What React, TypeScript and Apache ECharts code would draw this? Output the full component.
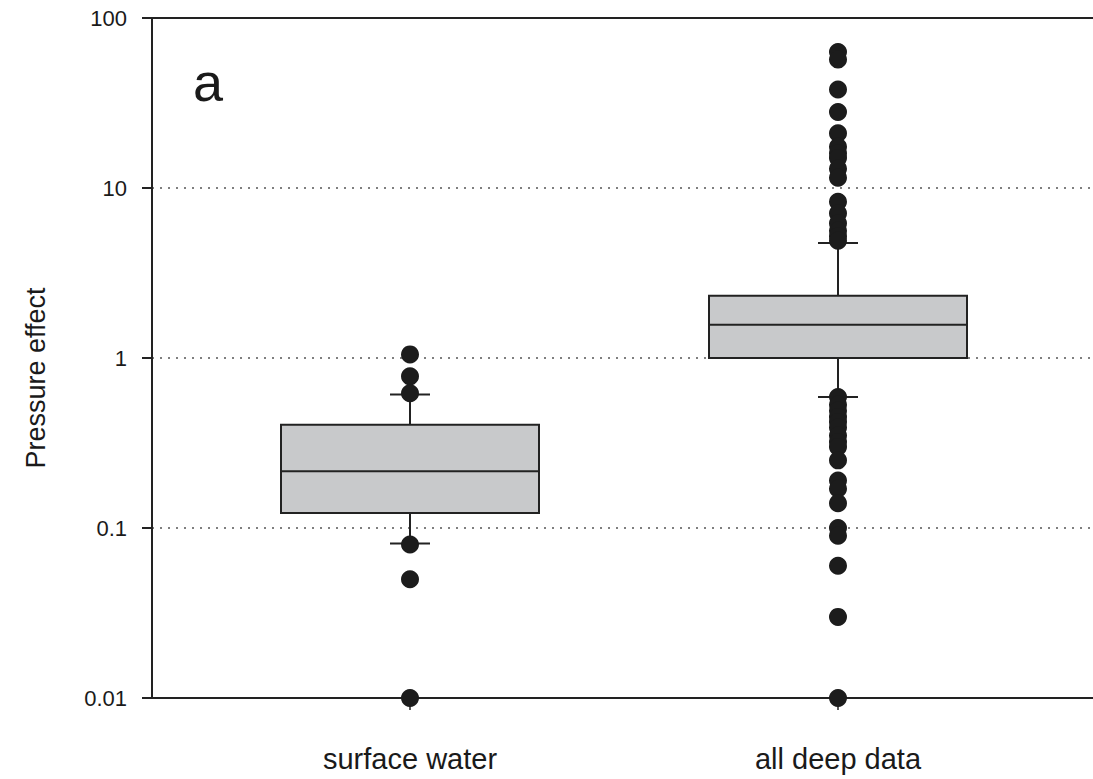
import React, { useEffect, useRef } from "react";
import * as echarts from "echarts";

const categories = ["surface water", "all deep data"];
// [low whisker, Q1, median, Q3, high whisker]
const boxStats = [
  [0.081, 0.1225, 0.216, 0.405, 0.61],
  [0.59, 1.0, 1.57, 2.32, 4.75],
];
const surfaceOutliers = [1.05, 0.78, 0.62, 0.08, 0.05, 0.01];
const deepOutliers = [
  63, 57, 38, 28, 21, 17.5, 16, 15, 13, 11.5, 8.3, 7.1, 6.2, 5.6, 5.2, 4.9,
  0.59, 0.53, 0.49, 0.45, 0.42, 0.39, 0.35, 0.32, 0.3, 0.25, 0.19, 0.17, 0.14,
  0.1, 0.09, 0.06, 0.03, 0.01,
];
const yTicks = [0.01, 0.1, 1, 10, 100];
const panelLabel = "a";
const yName = "Pressure effect";

const FONT = "Liberation Sans, Arial, sans-serif";
const INK = "#222222";

export default function App() {
  const ref = useRef<HTMLDivElement>(null);
  useEffect(() => {
    document.body.style.margin = "0";
    if (!ref.current) return;
    const chart = echarts.init(ref.current, undefined, { renderer: "svg" });
    const boxW = 258;
    const capW = 40;
    const option: any = {
      animation: false,
      backgroundColor: "#ffffff",
      grid: [
        { left: 152, right: 0, top: 18, bottom: 81 },
        { left: 196, width: 856, top: 18, bottom: 81 },
      ],
      xAxis: [
        {
          gridIndex: 0,
          type: "value",
          min: 0,
          max: 1,
          position: "bottom",
          axisLine: { show: true, lineStyle: { color: INK, width: 2 } },
          axisTick: { show: false },
          axisLabel: { show: false },
          splitLine: { show: false },
        },
        {
          gridIndex: 0,
          type: "value",
          min: 0,
          max: 1,
          position: "top",
          axisLine: { show: true, lineStyle: { color: INK, width: 2 } },
          axisTick: { show: false },
          axisLabel: { show: false },
          splitLine: { show: false },
        },
        {
          gridIndex: 1,
          type: "category",
          data: categories,
          boundaryGap: true,
          axisLine: { show: false },
          axisTick: {
            show: true,
            alignWithLabel: true,
            length: 12,
            lineStyle: { color: INK, width: 1.5 },
          },
          axisLabel: {
            margin: 46,
            fontSize: 29,
            fontFamily: FONT,
            color: "#1a1a1a",
          },
          splitLine: { show: false },
        },
      ],
      yAxis: [
        {
          gridIndex: 0,
          type: "log",
          logBase: 10,
          min: yTicks[0],
          max: yTicks[yTicks.length - 1],
          axisLine: { show: true, lineStyle: { color: INK, width: 2 } },
          axisTick: {
            show: true,
            inside: false,
            length: 10,
            lineStyle: { color: INK, width: 2 },
          },
          minorTick: { show: false },
          axisLabel: {
            margin: 25,
            fontSize: 22,
            fontFamily: FONT,
            color: "#1a1a1a",
            formatter: (v: number) => String(Number(v.toPrecision(3))),
          },
          splitLine: {
            show: true,
            lineStyle: { color: "#555555", width: 1.5, type: [2, 6] },
          },
        },
        {
          gridIndex: 1,
          type: "log",
          logBase: 10,
          min: yTicks[0],
          max: yTicks[yTicks.length - 1],
          show: false,
        },
      ],
      series: [
        {
          type: "custom",
          xAxisIndex: 2,
          yAxisIndex: 1,
          z: 3,
          clip: false,
          data: boxStats.map((s, i) => [i, ...s]),
          encode: { x: 0, y: [1, 2, 3, 4, 5] },
          renderItem: (params: any, api: any) => {
            const ci = api.value(0);
            const lo = api.coord([ci, api.value(1)]);
            const q1 = api.coord([ci, api.value(2)]);
            const md = api.coord([ci, api.value(3)]);
            const q3 = api.coord([ci, api.value(4)]);
            const hi = api.coord([ci, api.value(5)]);
            const cx = lo[0];
            const ls = { stroke: INK, lineWidth: 2 };
            return {
              type: "group",
              children: [
                { type: "line", shape: { x1: cx, y1: q3[1], x2: cx, y2: hi[1] }, style: ls },
                { type: "line", shape: { x1: cx, y1: q1[1], x2: cx, y2: lo[1] }, style: ls },
                { type: "line", shape: { x1: cx - capW / 2, y1: hi[1], x2: cx + capW / 2, y2: hi[1] }, style: ls },
                { type: "line", shape: { x1: cx - capW / 2, y1: lo[1], x2: cx + capW / 2, y2: lo[1] }, style: ls },
                {
                  type: "rect",
                  shape: { x: cx - boxW / 2, y: q3[1], width: boxW, height: q1[1] - q3[1] },
                  style: { fill: "#c8c9cb", stroke: INK, lineWidth: 2 },
                },
                { type: "line", shape: { x1: cx - boxW / 2, y1: md[1], x2: cx + boxW / 2, y2: md[1] }, style: ls },
              ],
            };
          },
        },
        {
          type: "scatter",
          xAxisIndex: 2,
          yAxisIndex: 1,
          z: 4,
          clip: false,
          symbol: "circle",
          symbolSize: 18,
          itemStyle: { color: "#1c1c1c", opacity: 1 },
          data: [
            ...surfaceOutliers.map((v) => [0, v]),
            ...deepOutliers.map((v) => [1, v]),
          ],
        },
      ],
      graphic: [
        {
          type: "text",
          x: 193,
          y: 82,
          style: {
            text: panelLabel,
            font: `54px ${FONT}`,
            fill: "#1a1a1a",
            verticalAlign: "middle",
            align: "left",
          },
        },
        {
          type: "text",
          x: 36,
          y: 378,
          rotation: Math.PI / 2,
          style: {
            text: yName,
            font: `27px ${FONT}`,
            fill: "#1a1a1a",
            verticalAlign: "middle",
            align: "center",
          },
        },
      ],
    };
    chart.setOption(option);
    return () => chart.dispose();
  }, []);
  return <div ref={ref} style={{ width: 1093, height: 779 }} />;
}
